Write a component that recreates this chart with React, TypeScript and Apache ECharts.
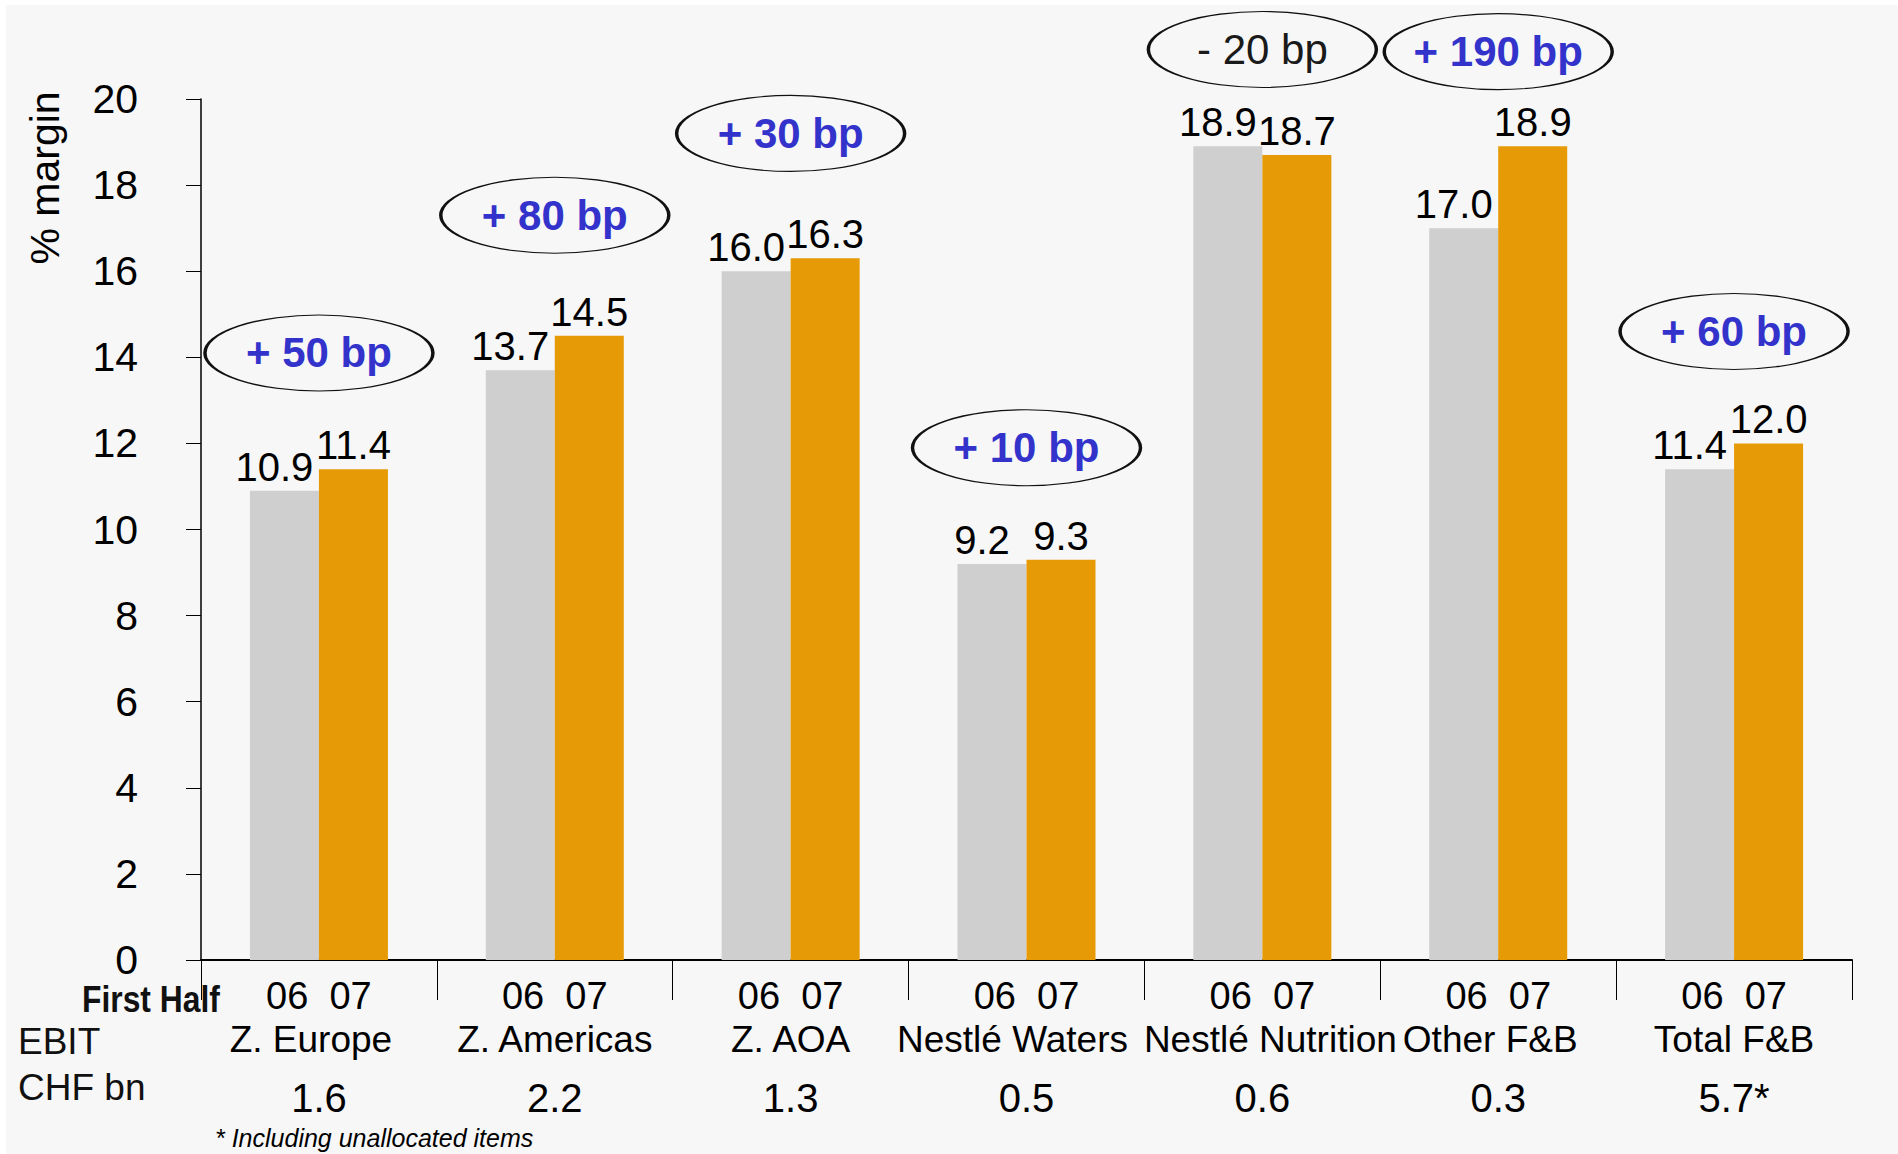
import React, { useEffect, useRef } from 'react';
import * as echarts from 'echarts';

// Operating margins by segment, first half 2006 vs 2007
const categories = ['Z. Europe', 'Z. Americas', 'Z. AOA', 'Nestlé Waters', 'Nestlé Nutrition', 'Other F&B', 'Total F&B'];
const margin06 = [10.9, 13.7, 16.0, 9.2, 18.9, 17.0, 11.4];
const margin07 = [11.4, 14.5, 16.3, 9.3, 18.7, 18.9, 12.0];
const changeLabels = ['+ 50 bp', '+ 80 bp', '+ 30 bp', '+ 10 bp', '- 20 bp', '+ 190 bp', '+ 60 bp'];
const ebitValues = ['1.6', '2.2', '1.3', '0.5', '0.6', '0.3', '5.7*'];
const yearLabels = ['06', '07'];
const yTicks = { min: 0, max: 20, interval: 2 };

// Vertical placement (in % margin units) of the change bubbles
const bubbleLevels = [14.1, 17.3, 19.2, 11.9, 21.15, 21.1, 14.6];
// Horizontal nudge (px) of the segment names so neighbours do not collide
const nameShift = [-8, 0, 0, -14, 8, -8, 0];

const FONT = '"Liberation Sans", Arial, Helvetica, sans-serif';
const GREY = '#CFCFCF';
const ORANGE = '#E69B06';
const BLUE = '#3333CC';

export default function App() {
  const ref = useRef<HTMLDivElement>(null);

  useEffect(() => {
    const chart = echarts.init(ref.current as HTMLDivElement, null, { renderer: 'svg' });

    const barLabel = (dx: number) => ({
      show: true,
      position: 'top',
      distance: 4,
      offset: [dx, 0],
      fontSize: 40,
      color: '#000',
      fontFamily: FONT,
      formatter: (p: any) => Number(p.value).toFixed(1),
    });

    const bubbleData = categories.map((c, i) => {
      const negative = changeLabels[i].trim().startsWith('-');
      return {
        value: [c, bubbleLevels[i]],
        label: {
          color: negative ? '#1a1a1a' : BLUE,
          fontWeight: negative ? 'normal' : 'bold',
        },
      };
    });

    // one rich style per segment name, padded to nudge it sideways
    const nameRich: Record<string, any> = {};
    nameShift.forEach((s, i) => {
      nameRich['n' + i] = {
        fontSize: 37,
        lineHeight: 42,
        color: '#000',
        fontFamily: FONT,
        padding: s < 0 ? [0, -2 * s, 0, 0] : [0, 0, 0, 2 * s],
      };
    });

    chart.setOption({
      animation: false,
      backgroundColor: '#FFFFFF',
      textStyle: { fontFamily: FONT },
      grid: { left: 201, right: 46, top: 99, bottom: 194, containLabel: false },
      xAxis: {
        type: 'category',
        data: categories,
        boundaryGap: true,
        axisLine: { show: true, lineStyle: { color: '#000', width: 2 } },
        axisTick: { show: true, length: 40, interval: 0, lineStyle: { color: '#000', width: 1 } },
        axisLabel: {
          interval: 0,
          margin: 14,
          color: '#000',
          fontFamily: FONT,
          formatter: (value: string, index: number) =>
            `{yr|${yearLabels[0]}  ${yearLabels[1]}}\n{n${index}|${value}}\n{ebit|${ebitValues[index]}}`,
          rich: {
            yr: { fontSize: 38, lineHeight: 44, color: '#000', fontFamily: FONT },
            ...nameRich,
            ebit: { fontSize: 40, lineHeight: 76, color: '#000', fontFamily: FONT },
          },
        },
        splitLine: { show: false },
      },
      yAxis: {
        type: 'value',
        min: yTicks.min,
        max: yTicks.max,
        interval: yTicks.interval,
        axisLine: { show: true, lineStyle: { color: '#000', width: 1.5 } },
        axisTick: { show: true, length: 15, lineStyle: { color: '#000', width: 1 } },
        axisLabel: { fontSize: 41, color: '#000', margin: 63, fontFamily: FONT },
        splitLine: { show: false },
      },
      series: [
        {
          name: '06',
          type: 'bar',
          data: margin06,
          barWidth: 69,
          barGap: '0%',
          itemStyle: { color: GREY },
          label: barLabel(-10),
          z: 2,
        },
        {
          name: '07',
          type: 'bar',
          data: margin07,
          barWidth: 69,
          barGap: '0%',
          itemStyle: { color: ORANGE },
          label: barLabel(0),
          z: 2,
        },
        {
          name: 'change',
          type: 'scatter',
          data: bubbleData,
          clip: false,
          symbol: 'path://M0 50 A50 50 0 1 1 100 50 A50 50 0 1 1 0 50 Z',
          symbolSize: [228, 76],
          itemStyle: { color: 'rgba(0,0,0,0)', borderColor: '#111', borderWidth: 2, opacity: 1 },
          label: {
            show: true,
            position: 'inside',
            fontSize: 42,
            fontFamily: FONT,
            formatter: (p: any) => changeLabels[p.dataIndex],
          },
          emphasis: { disabled: true },
          z: 5,
        },
      ],
      graphic: [
        {
          type: 'rect',
          silent: true,
          z: -100,
          shape: { x: 6, y: 5, width: 1892, height: 1149 },
          style: { fill: '#F7F7F7' },
        },
        {
          type: 'text',
          x: 45,
          y: 178,
          rotation: Math.PI / 2,
          style: { text: '% margin', fontSize: 41, fill: '#000', align: 'center', verticalAlign: 'middle', fontFamily: FONT },
        },
        {
          type: 'text',
          x: 82,
          y: 999,
          scaleX: 0.86,
          style: { text: 'First Half', fontSize: 37, fontWeight: 'bold', fill: '#111', align: 'left', verticalAlign: 'middle', fontFamily: FONT },
        },
        {
          type: 'text',
          x: 18,
          y: 1041,
          style: { text: 'EBIT', fontSize: 37, fill: '#111', align: 'left', verticalAlign: 'middle', fontFamily: FONT },
        },
        {
          type: 'text',
          x: 18,
          y: 1087,
          style: { text: 'CHF bn', fontSize: 37, fill: '#111', align: 'left', verticalAlign: 'middle', fontFamily: FONT },
        },
        {
          type: 'text',
          x: 215,
          y: 1150,
          style: { text: '* Including unallocated items', fontSize: 25, fontStyle: 'italic', fill: '#000', align: 'left', verticalAlign: 'bottom', fontFamily: FONT },
        },
      ],
    });

    return () => chart.dispose();
  }, []);

  return (
    <div
      ref={ref}
      style={{ position: 'fixed', left: 0, top: 0, width: 1898, height: 1154, background: '#fff' }}
    />
  );
}
